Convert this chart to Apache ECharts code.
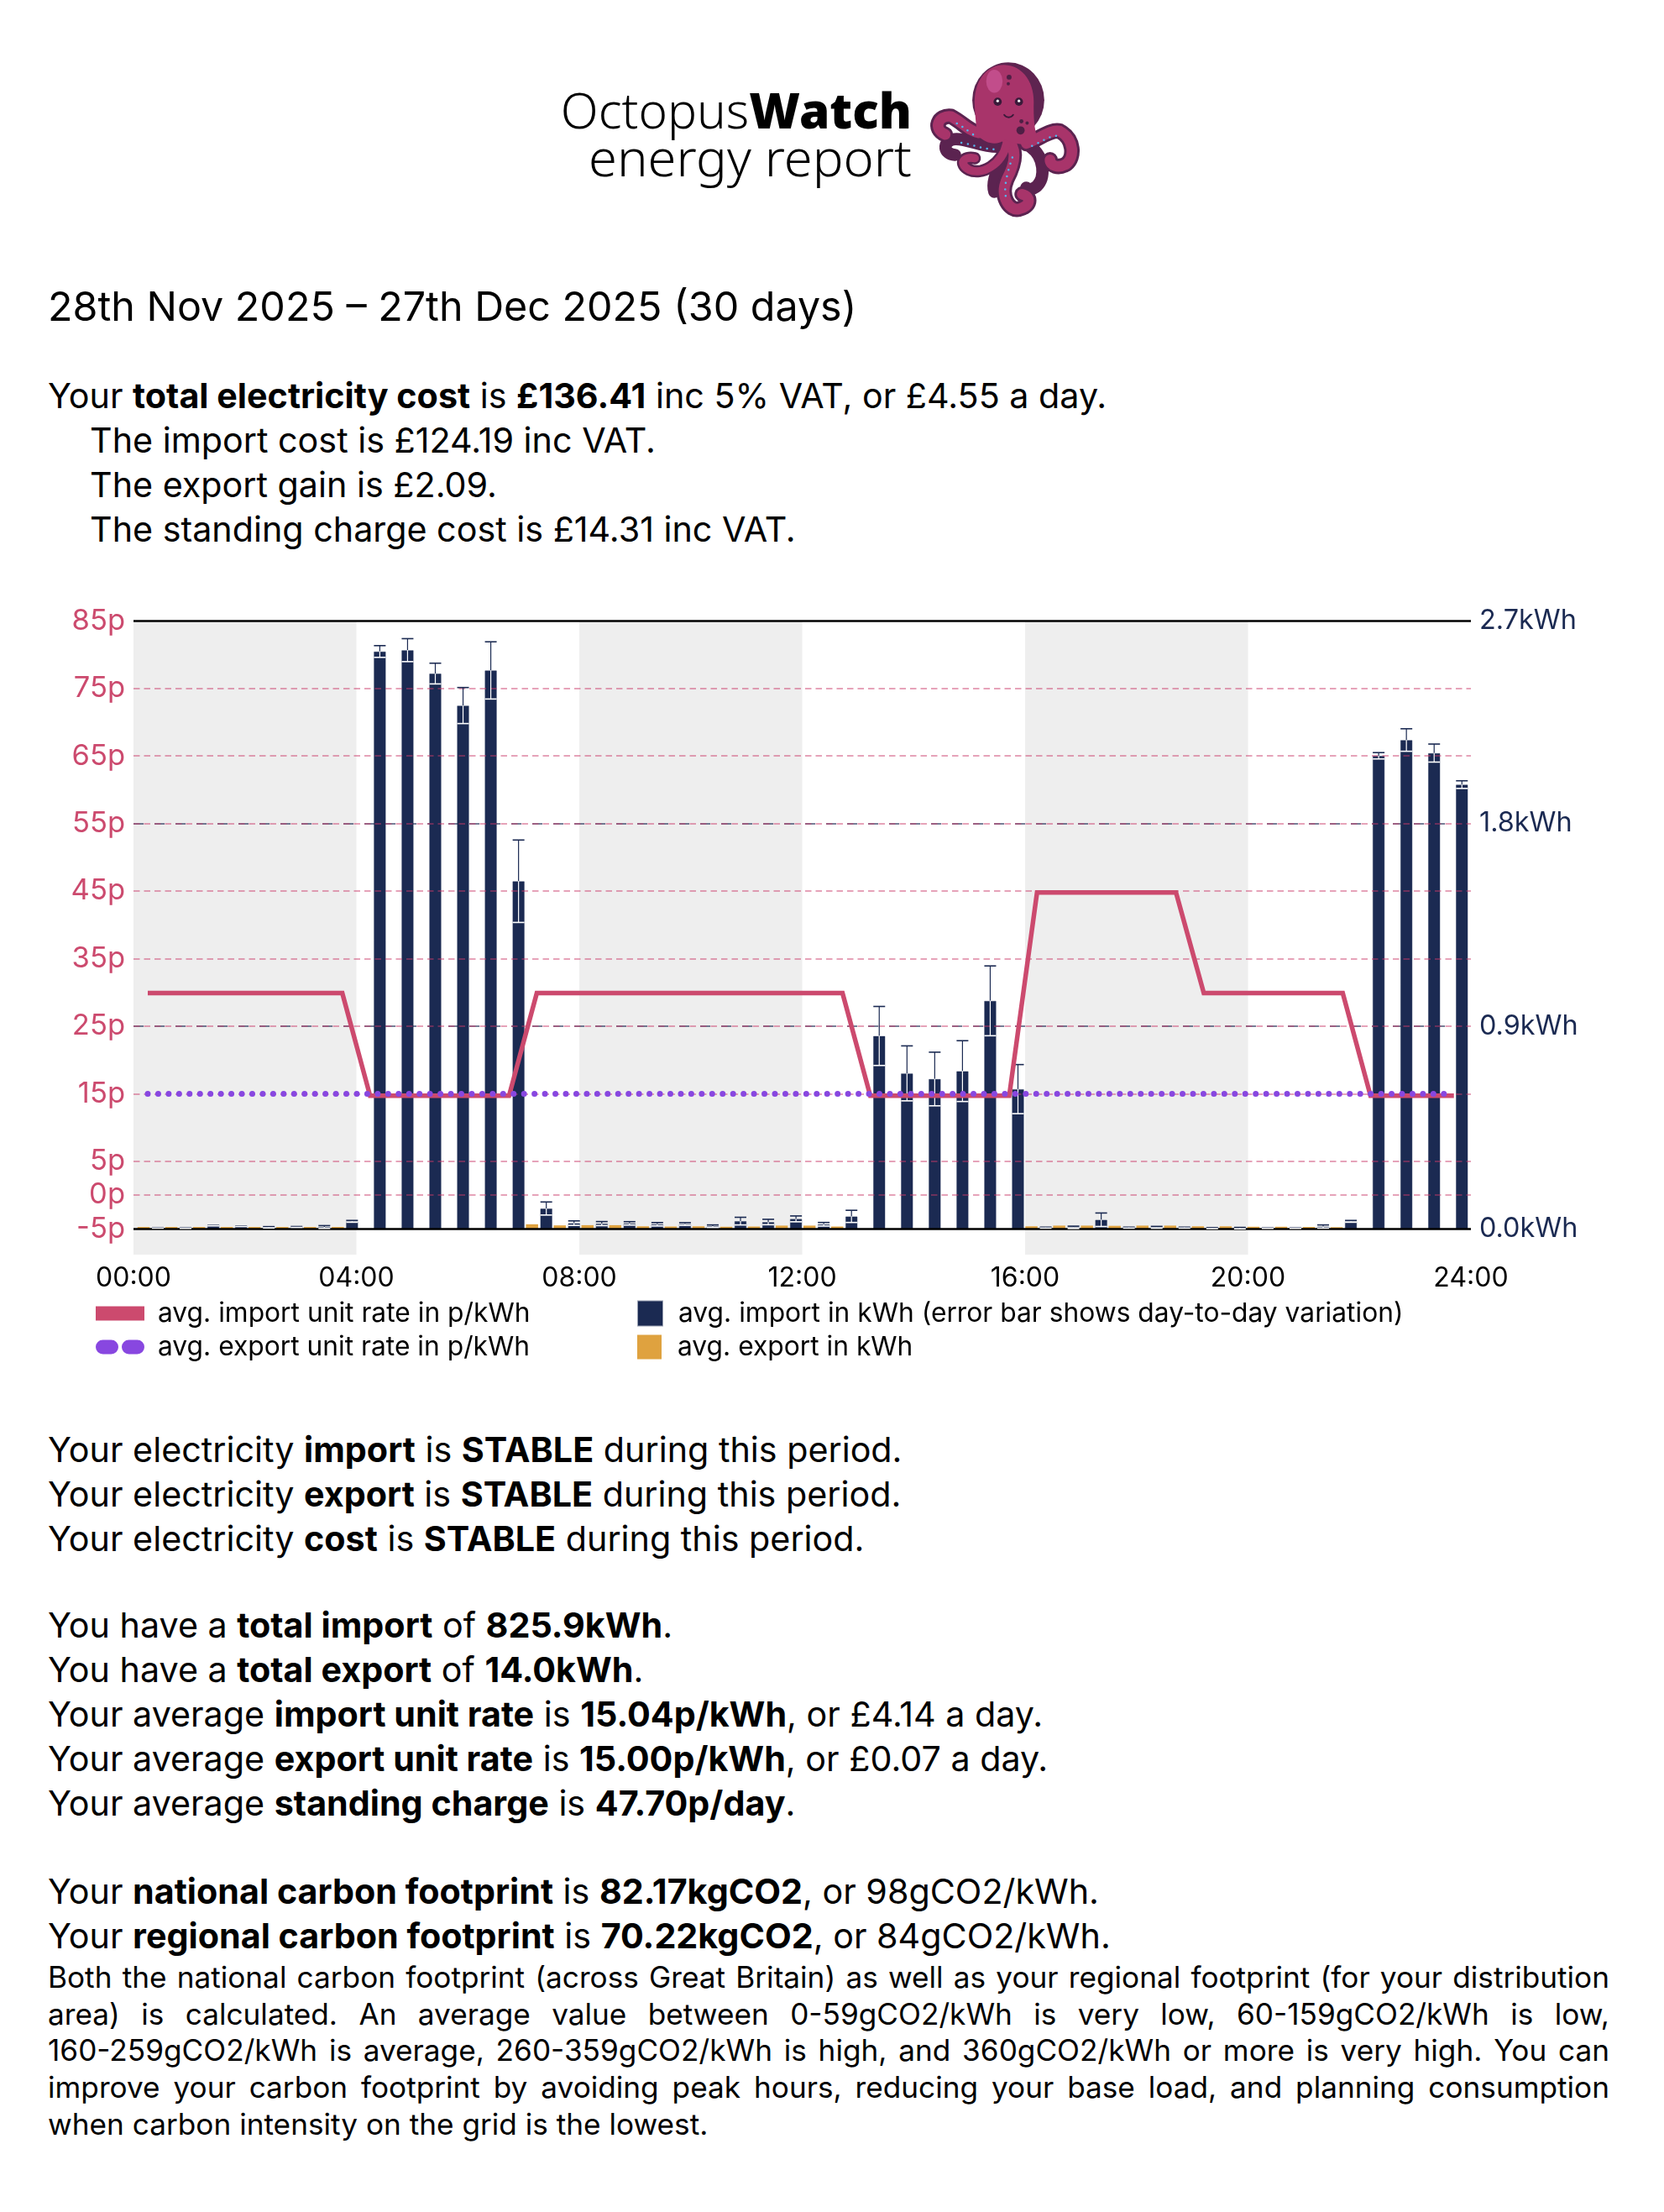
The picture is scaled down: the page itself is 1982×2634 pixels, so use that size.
<!DOCTYPE html>
<html><head><meta charset="utf-8">
<script src="https://cdn.jsdelivr.net/npm/echarts@6/dist/echarts.min.js"></script>
<style>
html,body{margin:0;padding:0;background:#fff;width:1982px;height:2634px;overflow:hidden;font-family:Inter,sans-serif;color:#000}
.b{position:absolute;left:57px;white-space:nowrap;font-size:41.25px;line-height:53px}
.b b{font-weight:700}
.i{padding-left:50px}
#title{top:336px;font-size:48.4px;line-height:58px}
#note{position:absolute;left:57px;top:2333px;width:1860px;font-size:35.2px;line-height:43.7px}
#note div{text-align:justify;text-align-last:justify;white-space:nowrap}
#note div:last-child{text-align-last:left}
#chart{position:absolute;left:0;top:700px;width:1982px;height:950px}
.logo{position:absolute;right:896px;font-family:"Noto Sans",sans-serif;line-height:70px;white-space:nowrap;font-weight:300}
.logo b{font-weight:900}
svg{position:absolute;left:0;top:0}
</style></head><body>
<div class="logo" style="top:95px;font-size:58.5px">Octopus<b>Watch</b></div>
<div class="logo" style="top:151px;font-size:61.5px">energy report</div>
<svg width="1982" height="300" viewBox="0 0 1982 300" fill="none" stroke-linecap="round" stroke-linejoin="round">
<g transform="translate(1200 165) scale(.975) translate(-1202 -167)">
<g stroke="#5b2350" stroke-width="15">
<path d="M1191 177C1170 178 1150 165 1135 168C1122 172 1124 186 1138 187"/>
<path d="M1201 173C1195 200 1170 212 1155 205C1142 198 1148 188 1162 191"/>
<path d="M1196 190C1190 205 1182 220 1186 232"/>
<path d="M1230 177C1248 190 1248 215 1238 225C1232 230 1226 230 1225 227"/>
</g>
<g stroke="#5b2350" stroke-width="19">
<path d="M1167 160C1155 158 1148 148 1133 140C1118 138 1110 155 1126 162"/>
<path d="M1225 173C1240 168 1255 155 1266 158C1284 168 1284 190 1274 198C1264 204 1254 200 1254 193"/>
<path d="M1201 167C1216 180 1210 200 1201 217C1192 238 1205 256 1216 253C1230 250 1232 238 1220 235"/>
</g>
<g stroke="#a8346a" stroke-width="13">
<path d="M1167 160C1155 158 1148 148 1133 140C1118 138 1110 155 1126 162"/>
<path d="M1225 173C1240 168 1255 155 1266 158C1284 168 1284 190 1274 198C1264 204 1254 200 1254 193"/>
<path d="M1201 167C1216 180 1210 200 1201 217C1192 238 1205 256 1216 253C1230 250 1232 238 1220 235"/>
<path d="M1201 173C1195 200 1170 212 1155 205C1142 198 1148 188 1162 191" stroke-width="10"/>
</g>
<ellipse cx="1203" cy="120" rx="44" ry="46" fill="#5e2450"/>
<path d="M1162 128C1160 95 1178 77 1198 77C1222 78 1236 100 1234 128C1234 150 1236 160 1240 170C1225 178 1205 172 1200 168C1190 175 1178 175 1166 164C1164 155 1163 145 1162 128Z" fill="#a8346a"/>
<ellipse cx="1186" cy="97" rx="10" ry="14" fill="#c24d8b"/>
<circle cx="1190" cy="122" r="5" fill="#3a1a3a"/><circle cx="1216" cy="122" r="5" fill="#3a1a3a"/>
<circle cx="1190" cy="121" r="1.6" fill="#fff"/><circle cx="1216" cy="121" r="1.6" fill="#fff"/>
<path d="M1198 138C1201 142 1206 142 1209 138" stroke="#3a1a3a" stroke-width="2"/>
<circle cx="1204" cy="92" r="3" fill="#4e1f45"/><circle cx="1203" cy="100" r="2" fill="#4e1f45"/><circle cx="1218" cy="157" r="5" fill="#4e1f45"/><circle cx="1219" cy="146" r="2.5" fill="#4e1f45"/><circle cx="1226" cy="148" r="2" fill="#4e1f45"/>
<g stroke="#55b7f0" stroke-width="2.6" stroke-dasharray="0 8"><path d="M1160 162C1150 155 1142 148 1134 146"/><path d="M1232 176C1245 170 1256 162 1266 164"/><path d="M1208 190C1203 205 1197 225 1200 238"/><path d="M1185 180C1170 180 1155 172 1142 172"/></g>
</g>
</svg>
<div class="b" id="title">28th Nov 2025 – 27th Dec 2025 (30 days)</div>
<div class="b" style="top:445px">Your <b>total electricity cost</b> is <b>£136.41</b> inc 5% VAT, or £4.55 a day.<br><span class="i">The import cost is £124.19 inc VAT.</span><br><span class="i">The export gain is £2.09.</span><br><span class="i">The standing charge cost is £14.31 inc VAT.</span></div>
<div id="chart"></div>
<div class="b" style="top:1700px">Your electricity <b>import</b> is <b>STABLE</b> during this period.<br>Your electricity <b>export</b> is <b>STABLE</b> during this period.<br>Your electricity <b>cost</b> is <b>STABLE</b> during this period.</div>
<div class="b" style="top:1909px">You have a <b>total import</b> of <b>825.9kWh</b>.<br>You have a <b>total export</b> of <b>14.0kWh</b>.<br>Your average <b>import unit rate</b> is <b>15.04p/kWh</b>, or £4.14 a day.<br>Your average <b>export unit rate</b> is <b>15.00p/kWh</b>, or £0.07 a day.<br>Your average <b>standing charge</b> is <b>47.70p/day</b>.</div>
<div class="b" style="top:2226px">Your <b>national carbon footprint</b> is <b>82.17kgCO2</b>, or 98gCO2/kWh.<br>Your <b>regional carbon footprint</b> is <b>70.22kgCO2</b>, or 84gCO2/kWh.</div>
<div id="note"><div>Both the national carbon footprint (across Great Britain) as well as your regional footprint (for your distribution</div><div>area) is calculated. An average value between 0-59gCO2/kWh is very low, 60-159gCO2/kWh is low,</div><div>160-259gCO2/kWh is average, 260-359gCO2/kWh is high, and 360gCO2/kWh or more is very high. You can</div><div>improve your carbon footprint by avoiding peak hours, reducing your base load, and planning consumption</div><div>when carbon intensity on the grid is the lowest.</div></div>
<script>
const importKwh=[.005,.004,.015,.012,.0075,.009,.009,.034,2.564,2.570,2.466,2.324,2.480,1.544,.091,.026,.024,.025,.021,.022,.0125,.035,.031,.045,.021,.056,.857,.691,.666,.701,1.013,.621,.006,.0075,.041,.006,.0075,.006,.004,.004,.004,.004,.011,.034,2.101,2.171,2.113,1.973];
const importErr=[.001,.001,.001,.001,.003,.002,.006,.004,.026,.051,.046,.08,.127,.183,.029,.01,.009,.0075,.0075,.006,.0055,.017,.012,.013,.008,.027,.131,.122,.119,.135,.155,.109,.002,.005,.03,.002,.004,.002,.002,.003,.001,.001,.007,.004,.014,.05,.04,.017];
const exportKwh=[.009,.009,.009,.009,.009,.009,.009,.009,0,0,0,0,0,0,.021,.016,.017,.017,.012,.011,.012,.010,.011,.015,.015,.011,0,0,0,0,0,0,.012,.015,.015,.014,.015,.015,.012,.012,.010,.010,.009,.008,0,0,0,0];
const importRate=[29.9,29.9,29.9,29.9,29.9,29.9,29.9,29.9,14.7,14.7,14.7,14.7,14.7,14.7,29.9,29.9,29.9,29.9,29.9,29.9,29.9,29.9,29.9,29.9,29.9,29.9,14.7,14.7,14.7,14.7,14.7,14.7,44.8,44.8,44.8,44.8,44.8,44.8,29.9,29.9,29.9,29.9,29.9,29.9,14.7,14.7,14.7,14.7];
const exportRate=[15,15,15,15,15,15,15,15,15,15,15,15,15,15,15,15,15,15,15,15,15,15,15,15,15,15,15,15,15,15,15,15,15,15,15,15,15,15,15,15,15,15,15,15,15,15,15,15];
const rateTicks=[-5,0,5,15,25,35,45,55,65,75,85];
const kwhTicks=[0,.9,1.8,2.7];
const offPeakBands=[[0,4],[8,12],[16,20]];
const names={ir:'avg. import unit rate in p/kWh',er:'avg. export unit rate in p/kWh',ik:'avg. import in kWh (error bar shows day-to-day variation)',ek:'avg. export in kWh'};
const PINK='#cc4a6e',NAVY='#1b2a52',PURPLE='#8847e0',ORANGE='#dfa23f',FF='Inter';
const importX=i=>.437+.4979*i, exportX=i=>.181+.4979*i, lineX=i=>.256+.4987*i;
const capsules='path://M8.5 0H18.5A8.5 8.5 0 0 1 18.5 17H8.5A8.5 8.5 0 0 1 8.5 0ZM39.5 0H49.5A8.5 8.5 0 0 1 49.5 17H39.5A8.5 8.5 0 0 1 39.5 0Z';
function legend(name,icon,left,top,w,h){return {show:true,left,top,orient:'horizontal',selectedMode:false,itemWidth:w,itemHeight:h,itemGap:0,data:[{name,icon}],padding:0,textStyle:{fontFamily:FF,fontSize:31.75,color:'#000',padding:[0,0,0,name===names.ir||name===names.er?11:14]}};}
const chart=echarts.init(document.getElementById('chart'),null,{renderer:'canvas'});
const pinkLines=rateTicks.filter(v=>v!==-5&&v!==85);
chart.setOption({animation:false,
 grid:{left:159,top:39.3,width:1593,height:754.6},
 legend:[legend(names.ir,'rect',114,848,58,17),legend(names.er,capsules,114,888,58,17),legend(names.ik,'rect',759,848,29,29),legend(names.ek,'rect',759,888,29,29)],
 xAxis:{type:'value',min:0,max:24,interval:4,axisLine:{show:false},axisTick:{show:false},splitLine:{show:false},
  axisLabel:{margin:12,fontFamily:FF,fontSize:32,color:'#000',formatter:v=>String(v).padStart(2,'0')+':00',hideOverlap:false}},
 yAxis:[
  {type:'value',min:-8.8,max:85,axisLine:{show:false},axisTick:{show:false},splitLine:{show:false},
   axisLabel:{margin:10,fontFamily:FF,fontSize:34.5,color:PINK,customValues:rateTicks,formatter:v=>v+'p'}},
  {type:'value',min:-.1135,max:2.7,position:'right',axisLine:{show:false},axisTick:{show:false},splitLine:{show:false},
   axisLabel:{margin:10,fontFamily:FF,fontSize:32.4,color:NAVY,customValues:kwhTicks,formatter:v=>v.toFixed(1)+'kWh'}}
 ],
 series:[
  {name:names.ek,type:'bar',yAxisIndex:1,barWidth:14.5,barGap:'-100%',z:2,itemStyle:{color:ORANGE},data:exportKwh.map((v,i)=>[exportX(i),v]),
   markArea:{silent:true,z:1,itemStyle:{color:'#eeeeee'},data:offPeakBands.map(b=>[{xAxis:b[0],y:39.3},{xAxis:b[1],y:793.9}])}},
  {name:names.ik,type:'bar',yAxisIndex:1,barWidth:14.5,barGap:'-100%',z:2,itemStyle:{color:NAVY,borderColor:'rgba(27,42,82,.45)',borderWidth:1},data:importKwh.map((v,i)=>[importX(i),v]),
   markLine:{silent:true,symbol:'none',z:3,label:{show:false},data:kwhTicks.slice(1,3).map(v=>({yAxis:v})),lineStyle:{color:'rgba(27,42,82,.8)',type:[12,13],width:1.5}}},
  {name:'err',type:'custom',yAxisIndex:1,z:3,clip:false,data:importKwh.map((v,i)=>[importX(i),v,importErr[i]]),encode:{x:0,y:1},
   renderItem(p,api){const x=api.value(0),v=api.value(1),e=api.value(2);
    const a=api.coord([x,v+e]),m=api.coord([x,v]),b=api.coord([x,v-e]);const hw=7;
    const L=(x1,y1,x2,y2,c,w)=>({type:'line',shape:{x1,y1,x2,y2},style:{stroke:c,lineWidth:w}});
    return {type:'group',children:[
     L(a[0],a[1],m[0],m[1],NAVY,1.2),L(a[0]-hw,a[1],a[0]+hw,a[1],NAVY,1.6),
     L(m[0],m[1],b[0],b[1],'#fff',1.2),L(b[0]-hw,b[1],b[0]+hw,b[1],'#fff',1.6)]};}},
  {name:names.er,type:'line',z:5,showSymbol:false,symbol:'none',lineStyle:{color:PURPLE,width:7,type:[0,12.45],cap:'round'},itemStyle:{color:PURPLE},data:exportRate.map((v,i)=>[lineX(i),v])},
  {name:names.ir,type:'line',z:4,showSymbol:false,symbol:'none',lineStyle:{color:PINK,width:5.5,join:'miter'},itemStyle:{color:PINK},data:importRate.map((v,i)=>[lineX(i),v]),
   markLine:{silent:true,symbol:'none',z:3,label:{show:false},data:[...pinkLines.map(v=>({yAxis:v,lineStyle:{color:'rgba(204,58,105,.62)',type:[7.5,5],width:1.5}})),
     {yAxis:-5,lineStyle:{color:'#000',type:'solid',width:2.6}},{yAxis:85,lineStyle:{color:'#000',type:'solid',width:2.6}}]}}
 ]});
</script>
</body></html>
